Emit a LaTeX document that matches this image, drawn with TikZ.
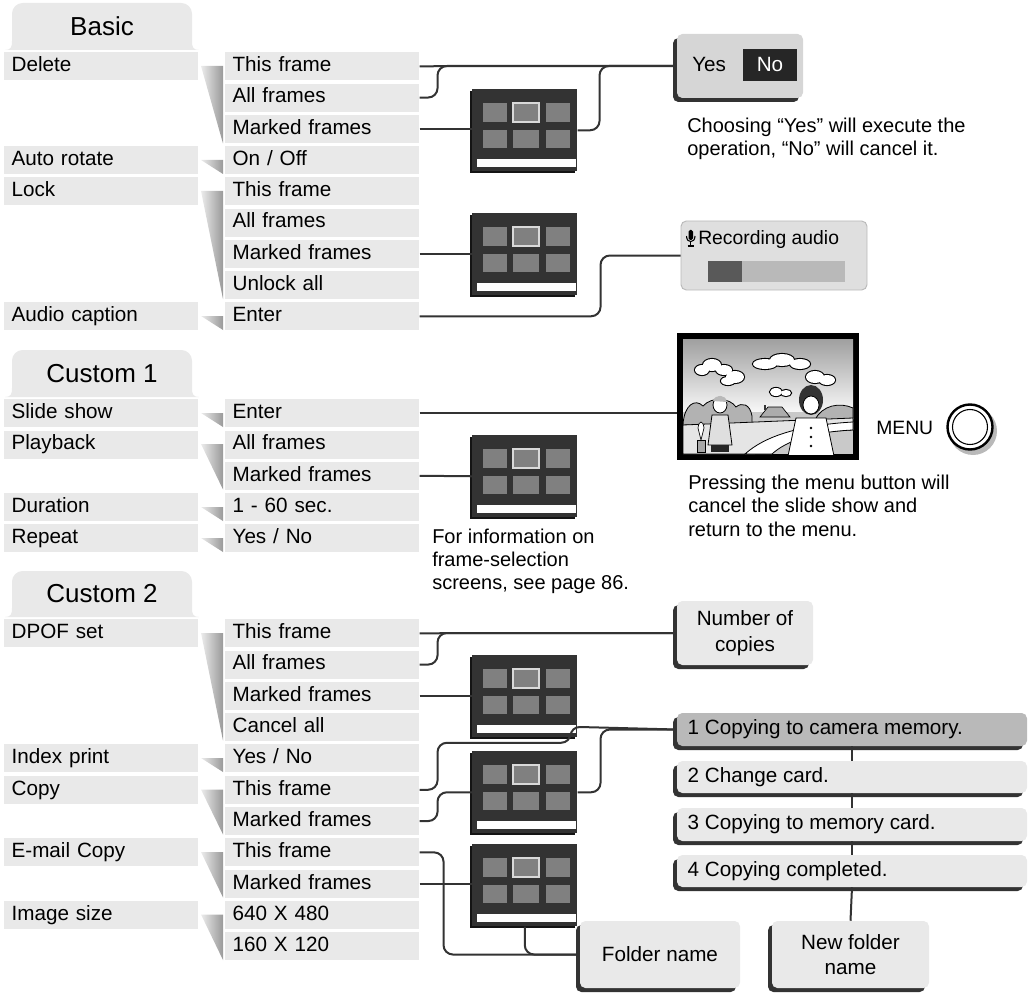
\documentclass[tikz,border=0pt]{standalone}
\usepackage{fontspec}
\setmainfont{Liberation Sans}
\usetikzlibrary{fit}
\tikzset{
  rowbox/.style={fill=gray!17, inner xsep=5.5pt, inner ysep=0pt, minimum width=145.5pt, minimum height=21pt, text width=134.5pt, align=left, text height=11pt, text depth=3pt, font=\fontsize{15.5}{18}\selectfont},
  hdrtext/.style={font=\fontsize{19.5}{22}\selectfont, inner sep=0pt},
  conn/.style={draw=black!80, line width=1.5pt, rounded corners=7pt},
  wedgefill/.style={left color=gray!15, right color=gray!80},
  note/.style={font=\fontsize{15}{18}\selectfont, inner sep=0pt, anchor=base west},
  boxtext/.style={font=\fontsize{15.5}{19}\selectfont, inner sep=0pt, align=center},
  screen/.pic={
    \fill[black!92] (-2,2) rectangle (103,84);
    \fill[black!80] (0,0) rectangle (105,82);
    \fill[white] (5,70) rectangle (104,78);
    \foreach \a/\b in {11/35,41/67,74/98}{\foreach \c/\d in {14/33,41/59}{\fill[black!50] (\a,\c) rectangle (\b,\d);}}
    \draw[black!15, line width=0.9pt] (41,14) rectangle (67,33);
    \node[inner sep=0pt, minimum width=78.75pt, minimum height=61.5pt, anchor=north west] (-b) at (0,0) {};
  }
}
\newcommand\mrow[4]{\node[rowbox, anchor=north west] (#1) at (#2,#3) {#4};}
\newcommand\wedgeg[2]{\shade[wedgefill] (201,#1) -- (223,#1) -- (223,#2) -- cycle;}
\newcommand\hdr[4]{%
  \fill[gray!17] (5,#3) .. controls (11,#3) and (12,#3-3) .. (12,#3-9) [rounded corners=8pt] -- (12,#2) -- (192,#2) [sharp corners] -- (192,#3-9) .. controls (192,#3-3) and (193,#3) .. (199,#3) -- cycle;
  \node[hdrtext] (#1) at (102,{(#2+#3)/2}) {#4};}
\newcommand\shbox[6]{%
  \fill[black!80, rounded corners=4pt] (#2-4,#3+4) rectangle (#4-4,#5+4);
  \fill[#6, rounded corners=4pt] (#2,#3) rectangle (#4,#5);
  \node[fit={(#2,#3)(#4,#5)}, inner sep=0pt] (#1) {};}
\newcommand\cloudp[1]{\foreach \px/\py/\a/\b in {#1}{\draw[black, line width=1.6pt] (\px,\py) ellipse ({\a} and {\b});}\foreach \px/\py/\a/\b in {#1}{\fill[white] (\px,\py) ellipse ({\a} and {\b});}}
\begin{document}
\begin{tikzpicture}[x=0.75pt, y=-0.75pt]
\useasboundingbox (0,0) rectangle (1032,995);
% ===== Basic =====
\hdr{hbasic}{3}{50}{Basic}
\mrow{ldel}{4}{52}{Delete}
\mrow{lrot}{4}{145.75}{Auto rotate}
\mrow{llock}{4}{177}{Lock}
\mrow{laud}{4}{302}{Audio caption}
\mrow{rd1}{225}{52}{This frame}
\mrow{rd2}{225}{83.25}{All frames}
\mrow{rd3}{225}{114.5}{Marked frames}
\mrow{rr1}{225}{145.75}{On / Off}
\mrow{rl1}{225}{177}{This frame}
\mrow{rl2}{225}{208.25}{All frames}
\mrow{rl3}{225}{239.5}{Marked frames}
\mrow{rl4}{225}{270.75}{Unlock all}
\mrow{ra1}{225}{302}{Enter}
\wedgeg{66}{143.5}
\wedgeg{160}{174}
\wedgeg{191}{299}
\wedgeg{316}{330}
% ===== Custom 1 =====
\hdr{hc1}{350}{397}{Custom 1}
\mrow{lslide}{4}{399}{Slide show}
\mrow{lplay}{4}{430.25}{Playback}
\mrow{ldur}{4}{492.75}{Duration}
\mrow{lrep}{4}{524}{Repeat}
\mrow{rs1}{225}{399}{Enter}
\mrow{rp1}{225}{430.25}{All frames}
\mrow{rp2}{225}{461.5}{Marked frames}
\mrow{rdu}{225}{492.75}{1 - 60 sec.}
\mrow{rre}{225}{524}{Yes / No}
\wedgeg{413}{427}
\wedgeg{444}{489.5}
\wedgeg{507}{521}
\wedgeg{538}{552}
% ===== Custom 2 =====
\hdr{hc2}{571}{617}{Custom 2}
\mrow{ldpof}{4}{619}{DPOF set}
\mrow{lidx}{4}{744.2}{Index print}
\mrow{lcopy}{4}{775.5}{Copy}
\mrow{lmail}{4}{838.1}{E-mail Copy}
\mrow{lsize}{4}{900.7}{Image size}
\mrow{dp1}{225}{619}{This frame}
\mrow{dp2}{225}{650.3}{All frames}
\mrow{dp3}{225}{681.6}{Marked frames}
\mrow{dp4}{225}{712.9}{Cancel all}
\mrow{ix1}{225}{744.2}{Yes / No}
\mrow{cp1}{225}{775.5}{This frame}
\mrow{cp2}{225}{806.8}{Marked frames}
\mrow{em1}{225}{838.1}{This frame}
\mrow{em2}{225}{869.4}{Marked frames}
\mrow{sz1}{225}{900.7}{640 X 480}
\mrow{sz2}{225}{932}{160 X 120}
\wedgeg{633}{740.5}
\wedgeg{758}{772}
\wedgeg{789.5}{834.5}
\wedgeg{852}{897.5}
\wedgeg{914.5}{960}
% ===== screens =====
\pic (s1) at (472,89) {screen};
\pic (s2) at (472,213) {screen};
\pic (s3) at (472,435) {screen};
\pic (s4) at (472,655) {screen};
\pic (s5) at (472,751) {screen};
\pic (s6) at (472,844) {screen};
% ===== Yes/No =====
\shbox{yes}{677}{34}{803}{98}{gray!32}
\node[font=\fontsize{15.5}{18}\selectfont, inner sep=0pt, anchor=base west] (yest) at (692,71.5) {Yes};
\fill[black!85] (743,49) rectangle (797,81);
\node[font=\fontsize{15.5}{18}\selectfont, inner sep=0pt, text=white, anchor=base] (not) at (770,71.5) {No};
\node[note] (ch1) at (687,133) {Choosing “Yes” will execute the};
\node[note] (ch2) at (687,155.5) {operation, “No” will cancel it.};
% ===== Recording audio =====
\fill[gray!25, draw=gray!55, line width=0.7pt, rounded corners=4pt] (681,221) rectangle (867,290);
\node[fit={(681,221)(867,290)}, inner sep=0pt] (rec) {};
\fill[black, rounded corners=1.3pt] (688.5,230) rectangle (693,240);
\draw[black, line width=0.8pt] (686.5,236) .. controls (686.5,243.5) and (695,243.5) .. (695,236);
\draw[black, line width=0.8pt] (690.75,242) -- (690.75,246) (687.5,246) -- (694,246);
\node[font=\fontsize{14.5}{17}\selectfont, inner sep=0pt, anchor=base west] (rect) at (698,244.5) {Recording audio};
\fill[black!65] (708,261) rectangle (742,282);
\fill[gray!55] (742,261) rectangle (845,282);
% ===== slide show picture =====
\fill[black] (677,333) rectangle (859,460);
\node[fit={(677,333)(859,460)}, inner sep=0pt] (pic) {};
\begin{scope}
\clip (683,339) rectangle (853,454);
\shade[top color=gray!75, bottom color=white] (683,339) rectangle (853,418);
\fill[gray!42] (683,412) rectangle (853,454);
\filldraw[fill=gray!60, draw=black, line width=0.6pt] (683,425) .. controls (684,405) and (695,398) .. (703,406) .. controls (712,396) and (730,398) .. (736,407) .. controls (742,402) and (750,404) .. (752,416) -- (752,425) -- cycle;
\filldraw[fill=gray!60, draw=black, line width=0.6pt] (815,420) .. controls (822,405) and (840,402) .. (853,408) -- (853,420) -- cycle;
\filldraw[fill=gray!20, draw=black, line width=0.6pt] (683,425) -- (853,418) -- (853,430) .. controls (805,432) and (775,440) .. (755,454) -- (683,454) -- cycle;
\filldraw[fill=white, draw=black, line width=0.6pt] (745,454) .. controls (765,436) and (800,425) .. (853,422) -- (853,430) .. controls (810,432) and (785,442) .. (772,454) -- cycle;
\filldraw[fill=gray!65, draw=black, line width=0.5pt] (760,417) -- (768,407) -- (782,407) -- (790,417) -- cycle;
\fill[black!80] (764,410) rectangle (766,405);
\cloudp{702/370/7/5,712/365/9/6,724/370/8/5,735/377/9/6,728/381/7/4}
\cloudp{765/364/12/5,782/360/12/6,800/364/10/5}
\cloudp{815/377/9/6,827/380/8/5}
\cloudp{776/392/6/4,786/393/5/3}
% plant
\filldraw[fill=gray!70, draw=black, line width=0.5pt] (697,440) rectangle (705,452);
\filldraw[fill=white, draw=black, line width=0.5pt] (698,428) .. controls (699,420) and (703,420) .. (704,428) -- (701,440) -- cycle;
% boy
\filldraw[fill=gray!25, draw=black, line width=0.6pt] (712,415) -- (728,415) -- (732,445) -- (708,445) -- cycle;
\fill[black!85] (711,445) rectangle (729,452);
\filldraw[fill=white, draw=black, line width=0.6pt] (720,405) ellipse (7 and 8);
\fill[gray!55] (713,401) .. controls (715,394) and (726,394) .. (727,402) -- cycle;
% girl
\fill[black!80] (811,400) ellipse (12 and 15);
\filldraw[fill=white, draw=black, line width=0.6pt] (811,405) ellipse (8 and 9);
\filldraw[fill=white, draw=black, line width=0.6pt] (796,418) -- (826,418) -- (834,456) -- (788,456) -- cycle;
\fill[black] (811,428) circle (1.3) (811,437) circle (1.3) (811,446) circle (1.3);
\end{scope}
\node[font=\fontsize{14.5}{17}\selectfont, inner sep=0pt, anchor=west] (menu) at (876,428) {MENU};
\fill[gray!55] (973,431) circle (24);
\fill[white] (970,427) circle (23);
\draw[black, line width=1.8pt] (970,427) circle (22.5);
\draw[black, line width=0.8pt] (970,427) circle (17.5);
\node[note] (pr1) at (688,489) {Pressing the menu button will};
\node[note] (pr2) at (688,512.5) {cancel the slide show and};
\node[note] (pr3) at (688,536) {return to the menu.};
\node[note] (fi1) at (432,543) {For information on};
\node[note] (fi2) at (432,566) {frame-selection};
\node[note] (fi3) at (432,589) {screens, see page 86.};
% ===== Custom 2 boxes =====
\shbox{np}{677}{601}{813}{665}{gray!17}
\node[boxtext] at (np.center) {Number of\\copies};
\shbox{st1}{677}{713}{1027}{746}{gray!55}
\shbox{st2}{677}{761}{1027}{793}{gray!17}
\shbox{st3}{677}{808}{1027}{841}{gray!17}
\shbox{st4}{677}{855}{1027}{887}{gray!17}
\node[boxtext, anchor=west] at ([xshift=8pt]st1.west) {1 Copying to camera memory.};
\node[boxtext, anchor=west] at ([xshift=8pt]st2.west) {2 Change card.};
\node[boxtext, anchor=west] at ([xshift=8pt]st3.west) {3 Copying to memory card.};
\node[boxtext, anchor=west] at ([xshift=8pt]st4.west) {4 Copying completed.};
\shbox{fold}{580}{921}{740}{988}{gray!17}
\node[boxtext] at (fold.center) {Folder name};
\shbox{nf}{772}{921}{929}{988}{gray!17}
\node[boxtext] at (nf.center) {New folder\\name};
% ===== connectors =====
\draw[conn] (rd1.east) -- (yes.west);
\draw[conn] (rd2.east) -- ++(18,0) |- (yes.west);
\draw[conn] (rd3.east) -- (s1-b.west |- rd3.east);
\draw[conn] (s1-b.east) -- ++(22,0) |- (yes.west);
\draw[conn] (rl3.east) -- (s2-b.west |- rl3.east);
\draw[conn] (ra1.east) -- ++(181,0) |- (rec.west);
\draw[conn] (rs1.east) -- (pic.west |- rs1.east);
\draw[conn] (rp2.east) -- (s3-b.west);
\draw[conn] (dp1.east) -- (np.west);
\draw[conn] (dp2.east) -- ++(18,0) |- (np.west);
\draw[conn] (dp3.east) -- (s4-b.west |- dp3.east);
\draw[conn] (cp1.east) -- ++(18,0) -- ++(0,-47) -- ++(133,0) -- ++(0,-16) -- (st1.west);
\draw[conn] (cp2.east) -- ++(18,0) |- (s5-b.west);
\draw[conn] (s5-b.east) -- ++(23,0) |- (st1.west);
\draw[conn] (em1.east) -- ++(24,0) |- (fold.west);
\draw[conn] (em2.east) -- (s6-b.west |- em2.east);
\draw[conn] (s6-b.south) |- (fold.west);
\draw[conn] (st1.south) -- (st2.north);
\draw[conn] (st2.south) -- (st3.north);
\draw[conn] (st3.south) -- (st4.north);
\draw[conn] (st4.south) -- (nf.north);
\end{tikzpicture}
\end{document}
